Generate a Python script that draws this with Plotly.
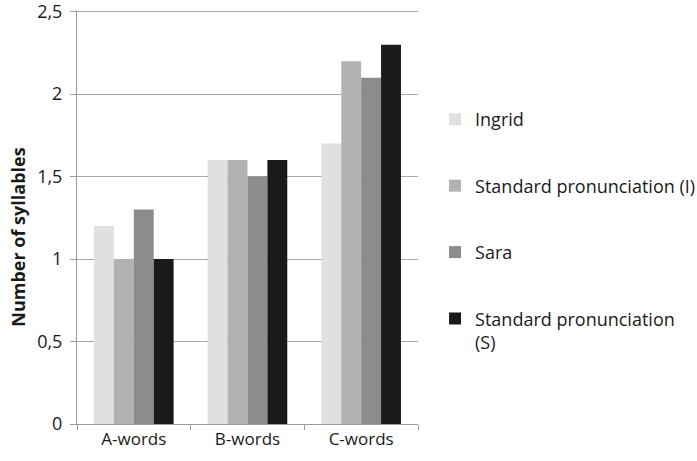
import plotly.graph_objects as go

categories = ["A-words", "B-words", "C-words"]
series_names = ["Ingrid", "Standard pronunciation (I)", "Sara", "Standard pronunciation<br>(S)"]
ingrid = [1.2, 1.6, 1.7]
standard_i = [1.0, 1.6, 2.2]
sara = [1.3, 1.5, 2.1]
standard_s = [1.0, 1.6, 2.3]
colors = ["#e0e0e0", "#b2b2b2", "#8c8c8c", "#1a1a1a"]
y_ticks = [0, 0.5, 1, 1.5, 2, 2.5]
y_tick_labels = ["0", "0,5", "1", "1,5", "2", "2,5"]
y_title = "Number of syllables"

font_family = "Open Sans, sans-serif"

fig = go.Figure()
for i, (name, vals) in enumerate(zip(series_names, [ingrid, standard_i, sara, standard_s])):
    fig.add_trace(go.Bar(
        x=categories, y=vals, name=name,
        marker=dict(color=colors[i], line=dict(width=0)),
        legendgroup=f"g{i}",
    ))

fig.update_layout(
    width=697, height=461,
    margin=dict(l=77, r=279, t=10, b=37, autoexpand=False),
    paper_bgcolor="white", plot_bgcolor="white",
    barmode="group", bargap=0.3, bargroupgap=0,
    font=dict(family=font_family, size=17, color="#1a1a1a"),
    legend=dict(
        x=1.05, y=0.78, xanchor="left", yanchor="top",
        tracegroupgap=40, valign="top",
        font=dict(size=18, family=font_family, color="#1a1a1a"),
        itemwidth=30,
    ),
    xaxis=dict(
        showline=True, linecolor="#9a9a9a", linewidth=1,
        ticks="outside", tickson="boundaries", ticklen=5, tickcolor="#9a9a9a",
        tickfont=dict(size=17), automargin=False,
    ),
    yaxis=dict(
        range=[0, 2.51], tickvals=y_ticks, ticktext=y_tick_labels,
        showgrid=True, gridcolor="#a8a8a8", gridwidth=1,
        showline=True, linecolor="#9a9a9a", linewidth=1,
        ticks="outside", ticklen=6, tickcolor="#9a9a9a",
        tickfont=dict(size=18), zeroline=False, ticklabelstandoff=4,
        automargin=False, ticklabeloverflow="allow",
    ),
    annotations=[dict(
        text=f"<b>{y_title}</b>", textangle=-90,
        xref="paper", yref="paper", x=-0.173, y=0.45,
        xanchor="center", yanchor="middle", showarrow=False,
        font=dict(size=18, family=font_family, color="#1a1a1a"),
    )],
)

fig.write_html("out.html")
